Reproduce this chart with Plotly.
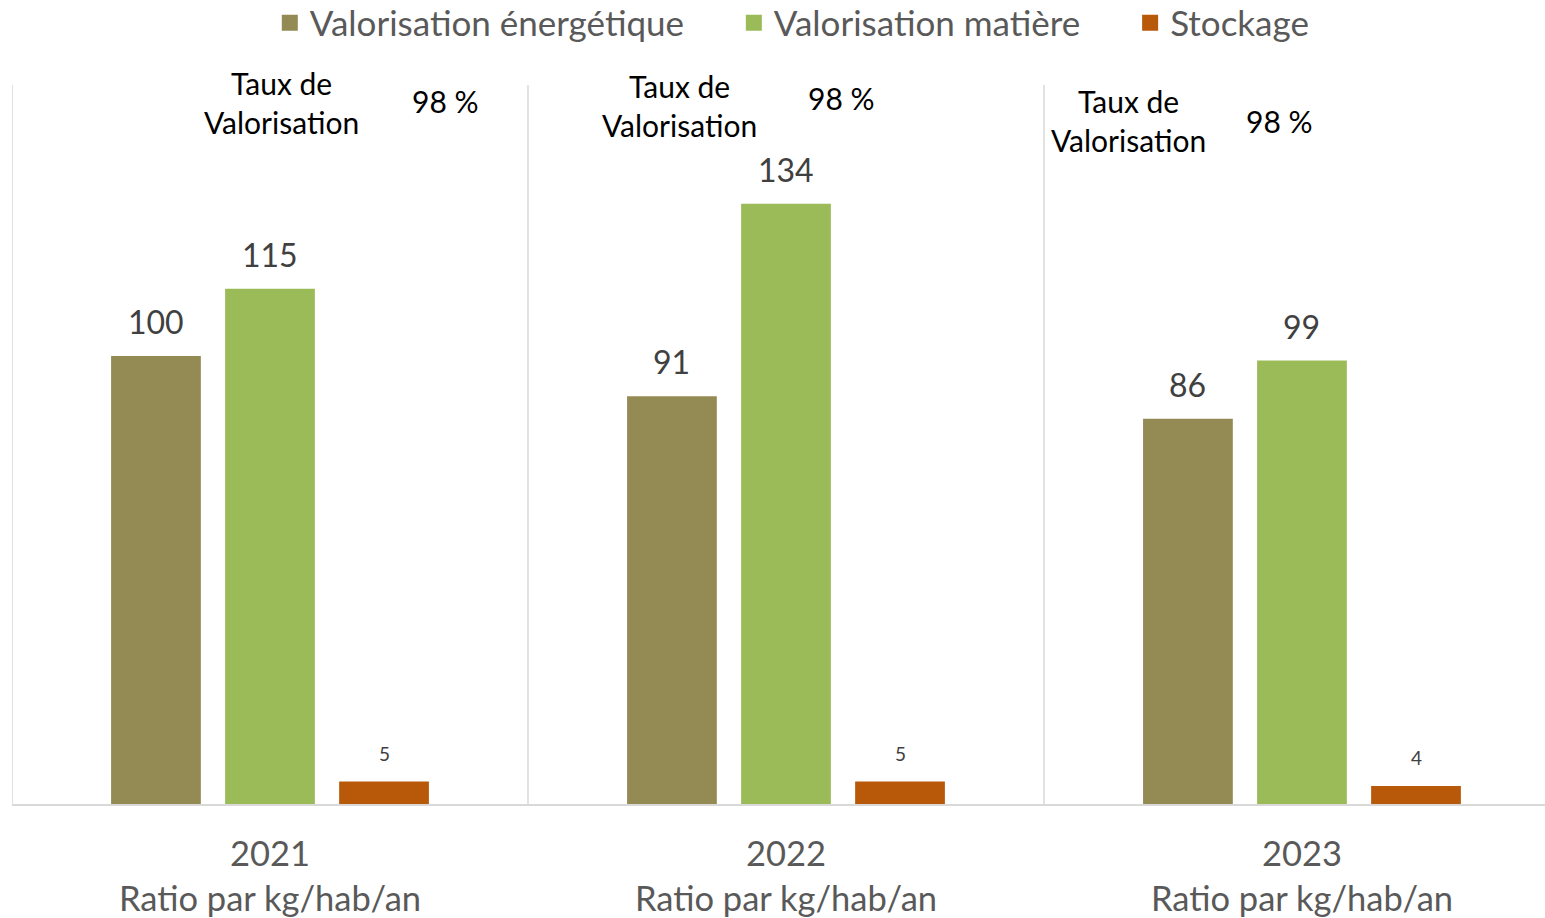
import plotly.graph_objects as go

years = ["2021", "2022", "2023"]
tick_text = ["2021<br>Ratio par kg/hab/an", "2022<br>Ratio par kg/hab/an", "2023<br>Ratio par kg/hab/an"]
series_names = ["Valorisation énergétique", "Valorisation matière", "Stockage"]
energetique = [100, 91, 86]
matiere = [115, 134, 99]
stockage = [5, 5, 4]
taux = ["98 %", "98 %", "98 %"]
colors = ["#948A54", "#9BBB59", "#B8590A"]

FONT = "Lato"
GRAY = "#595959"
LABEL = "#404040"
PAD = "\u00a0" * 5

fig = go.Figure()
all_values = [energetique, matiere, stockage]
for name, vals, col in zip(series_names, all_values, colors):
    fig.add_trace(go.Bar(x=years, y=vals, name=name, marker=dict(color=col, line=dict(width=0)),
                         hoverinfo="x+y+name", showlegend=False, legendgroup=name))
for k, (name, col) in enumerate(zip(series_names, colors)):
    label = name + (PAD if k < len(series_names) - 1 else "")
    fig.add_trace(go.Scatter(x=[None], y=[None], mode="markers", name=label, legendgroup=name,
                             marker=dict(symbol="square", size=20, color=col), showlegend=True))

slot = 0.221
annotations = []
for j, vals in enumerate(all_values):
    for i, v in enumerate(vals):
        small = (j == 2)
        annotations.append(dict(
            x=i + (j - 1) * slot, y=v, xref="x", yref="y", text=str(v), showarrow=False,
            yanchor="bottom", yshift=15 if small else 13,
            font=dict(family=FONT, size=19 if small else 32, color=LABEL)))

taux_pos = [(0.023, 156.6, 0.341, 156.9), (0.793, 156.0, 1.107, 157.6), (1.663, 152.6, 1.957, 152.5)]
for (tx, ty, px, py), t in zip(taux_pos, taux):
    annotations.append(dict(x=tx, y=ty, xref="x", yref="y", text="Taux de<br>Valorisation", showarrow=False,
                            font=dict(family=FONT, size=30, color="#000000"), align="center"))
    annotations.append(dict(x=px, y=py, xref="x", yref="y", text=t, showarrow=False,
                            font=dict(family=FONT, size=30, color="#000000")))

shapes = []
for sx in [-0.5, 0.5, 1.5]:
    shapes.append(dict(type="line", xref="x", yref="paper", x0=sx, x1=sx, y0=0, y1=1,
                       line=dict(color="#D9D9D9", width=1.5), layer="below"))

fig.update_layout(
    width=1545, height=918,
    margin=dict(l=12, r=0, t=85, b=114, autoexpand=False),
    paper_bgcolor="white", plot_bgcolor="white",
    barmode="group", bargap=0.337, bargroupgap=0.213,
    font=dict(family=FONT, color=GRAY),
    showlegend=True,
    legend=dict(orientation="h", x=0.509, xanchor="center", y=0.9749, yref="container", yanchor="middle",
                font=dict(family=FONT, size=35, color=GRAY), itemwidth=30, traceorder="normal",
                itemsizing="trace"),
    annotations=annotations, shapes=shapes,
)
fig.update_xaxes(type="category", categoryarray=years, range=[-0.5, 2.471],
                 tickmode="array", tickvals=years, ticktext=tick_text,
                 tickfont=dict(family=FONT, size=34.5, color=GRAY), ticklabelstandoff=19,
                 showline=True, linecolor="#D9D9D9", linewidth=1.5, ticks="", showgrid=False)
fig.update_yaxes(range=[0, 160.5], visible=False, showgrid=False, zeroline=False)

fig.write_html("out.html", config={"displayModeBar": False},
               post_script="document.body.style.margin='0';")
